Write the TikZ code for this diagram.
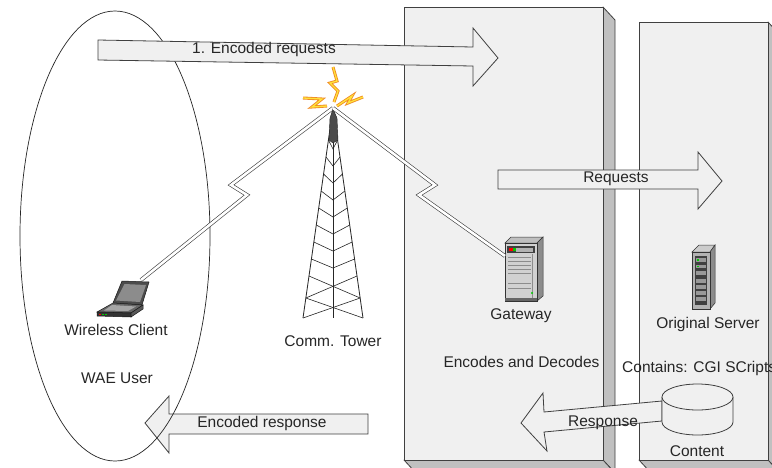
\documentclass[tikz,border=0pt]{standalone}
\usepackage{fontspec}
\setmainfont{Liberation Sans}
\definecolor{panelface}{HTML}{F0F0F0}
\definecolor{panelside}{HTML}{C0C0C0}
\definecolor{edge}{HTML}{404040}
\definecolor{txt}{HTML}{262626}
\definecolor{boltout}{HTML}{F08A24}
\definecolor{boltin}{HTML}{FFE23A}
\begin{document}
\begin{tikzpicture}[x=1pt,y=-1pt,
  lbl/.style={font=\fontsize{15.5}{18}\selectfont, text=txt, inner sep=0pt},
  front/.style={fill=panelface, draw=edge, line width=0.8pt},
  side/.style={fill=panelside, draw=edge, line width=0.8pt, line join=round},
  barrow/.style={fill=panelface, draw=edge, line width=0.8pt, line join=miter},
  sig/.style={draw=edge!90!black, double=white, double distance=2.6pt, line width=0.6pt, line join=miter},
  bolt/.style={draw=boltout, line width=3pt, line join=miter},
  boltcore/.style={draw=boltin, line width=1.3pt, line join=miter},
  tw/.style={draw=black!85, line width=0.8pt},
  ]
\clip (0,0) rectangle (772,467);
\fill[white] (0,0) rectangle (772,467);

% ---------- gateway panel (3D slab)
\draw[side] (603,7) -- (615,20) -- (615,473) -- (603,460) -- cycle;
\draw[side] (404,460) -- (603,460) -- (615,473) -- (416,473) -- cycle;
\draw[front] (404,7) rectangle (603,460);

% ---------- content server panel
\draw[side] (768,22) -- (780,35) -- (780,473) -- (768,460) -- cycle;
\draw[side] (639,460) -- (768,460) -- (780,473) -- (651,473) -- cycle;
\draw[front] (639,22) rectangle (768,460);

% ---------- encoded response arrow (below the user ellipse)
\draw[barrow] (368,414) -- (169,414) -- (169,396) -- (145,423) -- (169,453) -- (169,434) -- (368,434) -- cycle;
\node[lbl] (encresp) at (262,423) {Encoded response};

% ---------- WAE user ellipse
\draw[line width=0.7pt, draw=black!85] (115,236) ellipse [x radius=95pt, y radius=225pt];

% ---------- encoded requests arrow
\draw[barrow] (98,40) -- (473,47) -- (473,28) -- (498,58) -- (473,86) -- (473,66) -- (98,60) -- cycle;
\node[lbl] (encreq) at (264,49) {1. Encoded requests};

% ---------- requests arrow
\draw[barrow] (498,170) -- (698,170) -- (698,152) -- (722,181) -- (698,209) -- (698,189) -- (498,189) -- cycle;
\node[lbl] (req) at (616,179) {Requests};

% ---------- response arrow
\draw[barrow] (662,401) -- (544,412) -- (543,393) -- (521,423) -- (547,451) -- (544,432) -- (662,421) -- cycle;
\node[lbl] (resp) at (603,423) {Response};

% ---------- content cylinder
\coordinate (cyl) at (697.5,397);
\draw[fill=panelface, draw=edge, line width=0.8pt] (662,397) -- (662,422)
  arc[start angle=180, end angle=360, x radius=35.5pt, y radius=13pt] -- (733,397);
\draw[fill=panelface, draw=edge, line width=0.8pt] (cyl) ellipse [x radius=35.5pt, y radius=13pt];

% ---------- communication tower
\coordinate (apex) at (333,108);
\foreach \l in {140,157,174,191,208,225,242,259} {
  \draw[tw, line width=0.6pt] ({333-0.143*(\l-108)},\l) -- (333,\l+9) -- ({333+0.143*(\l-108)},\l);
}
\draw[tw, line width=0.6pt] ({333-0.143*(276-108)},276) -- ({333+0.143*(298-108)},298);
\draw[tw, line width=0.6pt] ({333+0.143*(276-108)},276) -- ({333-0.143*(298-108)},298);
\draw[tw, line width=0.6pt] ({333-0.143*(298-108)},298) -- ({333+0.143*(318-108)},318);
\draw[tw, line width=0.6pt] ({333+0.143*(298-108)},298) -- ({333-0.143*(318-108)},318);
\draw[tw] (apex) -- (303,318);
\draw[tw] (apex) -- (363,318);
\draw[tw] (333,138) -- (333,318);
\fill[black!70, draw=black!85, line width=0.4pt] (333,109) -- (337,118) -- (338,140) -- (333,143) -- (329,140) -- (330,118) -- cycle;
\node[lbl] (tower) at (333,341) {Comm. Tower};

% ---------- radio bolts above the tower
\foreach \p in {{(333,67) -- (337,81) -- (330,83) -- (338,91) -- (334,102)},
                {(303,98) -- (322,99) -- (312,107) -- (327,106)},
                {(337,106) -- (352,96) -- (348,103) -- (363,97)}} {
  \draw[bolt] \p;
  \draw[boltcore] \p;
}

% ---------- laptop
\node[inner sep=0pt, minimum width=50pt, minimum height=36pt] (laptop) at (121,298) {};
\fill[black!70, draw=black!90, line width=0.5pt] (122,281) -- (149,282) -- (142,305) -- (113,303) -- cycle;
\fill[black!45] (124.5,284) -- (146,285) -- (140,302) -- (116,300.5) -- cycle;
\fill[black!60, draw=black!90, line width=0.5pt] (113,303) -- (143,305) -- (131,313) -- (97,312) -- cycle;
\fill[black!35] (112,305) -- (136,306.5) -- (128,311) -- (104,310.5) -- cycle;
\fill[black!80, draw=black!90, line width=0.5pt] (97,312) -- (131,313) -- (131,317) -- (97,316) -- cycle;
\fill[black!65, draw=black!90, line width=0.5pt] (131,313) -- (143,305) -- (143,309) -- (131,317) -- cycle;
\fill[red] (99,314) rectangle (101,315.2);
\fill[green!80!black] (102,314) rectangle (104,315.2);
\fill[green!80!black] (105,314) rectangle (107,315.2);
\coordinate (lapin) at (141,280);
\node[lbl] (client) at (116,330) {Wireless Client};
\node[lbl] (wae) at (117,378) {WAE User};

% ---------- gateway server
\node[inner sep=0pt, minimum width=38pt, minimum height=64pt] (gwsrv) at (524,269) {};
\fill[black!25, draw=black!80, line width=0.5pt] (505,243) -- (511,237) -- (543,237) -- (537,243) -- cycle;
\fill[black!45, draw=black!80, line width=0.5pt] (537,243) -- (543,237) -- (543,296) -- (537,301) -- cycle;
\fill[black!18, draw=black!80, line width=0.5pt] (505,243) rectangle (537,301);
\fill[black!75] (507,246) rectangle (535,253);
\fill[black!30] (516,247.5) rectangle (533,251.5);
\fill[red] (509,248) rectangle (513,251);
\fill[green!80!black] (513,248) rectangle (515.5,251);
\foreach \y in {257,261,265,269,273,283,288} \draw[black!45, line width=0.5pt] (508,\y) -- (531,\y);
\draw[black!45, line width=0.5pt] (532,254) -- (532,298);
\fill[green!80!black] (532,293) circle (1.2pt);
\fill[black!60] (505,298) rectangle (537,301);
\coordinate (gwin) at (505,256);
\node[lbl] (gwlbl) at (521,316) {Gateway};
\node[lbl] (encdec) at (521.5,362) {Encodes and Decodes};

% ---------- original server
\node[inner sep=0pt, minimum width=24pt, minimum height=64pt] (osrv) at (703,277) {};
\fill[black!20, draw=black!80, line width=0.5pt] (692,252) -- (699,245) -- (715,245) -- (710,252) -- cycle;
\fill[black!45, draw=black!80, line width=0.5pt] (710,252) -- (715,245) -- (715,303) -- (710,309) -- cycle;
\fill[black!30, draw=black!80, line width=0.5pt] (692,252) rectangle (710,309);
\fill[black!75] (695,256) rectangle (707,305);
\foreach \y in {258,264.5,271,279,285,291,297} \fill[black!40] (696,\y) rectangle (706,\y+3.5);
\fill[green!80!black] (696.5,259) rectangle (698.5,260.5);
\fill[green!80!black] (696.5,265.5) rectangle (698.5,267);
\node[lbl] (oslbl) at (708,324) {Original Server};
\node[lbl, anchor=west] (cgi) at (622,368) {Contains: CGI SCripts};
\node[lbl] (content) at (697,451) {Content};

% ---------- wireless links
\draw[sig] (apex) -- (231,185) -- (247,195) -- (lapin);
\draw[sig] (apex) -- (435,185) -- (419,195) -- (gwin);
\end{tikzpicture}
\end{document}
